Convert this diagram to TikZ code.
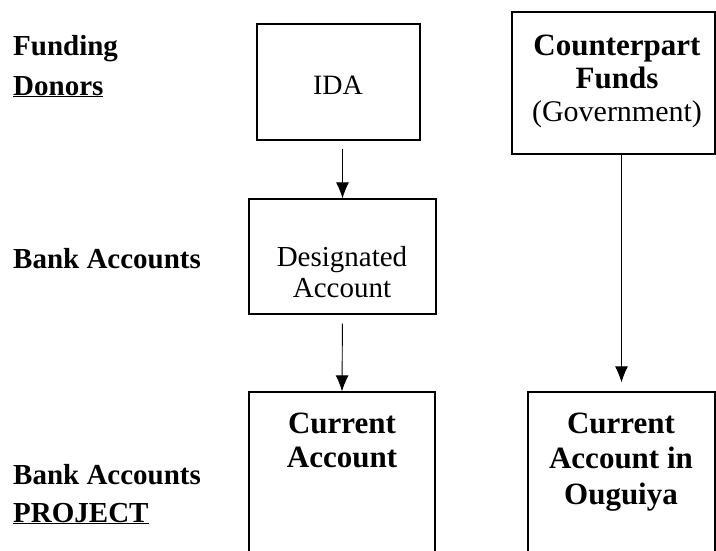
\documentclass[tikz,border=0pt]{standalone}
\usepackage{fontspec}
\setmainfont{Liberation Serif}
\usetikzlibrary{arrows.meta}

\begin{document}
\begin{tikzpicture}[x=1pt, y=-1pt, >={Latex[length=16pt, width=13pt]},
  acct/.style={draw, line width=1.2pt, inner sep=0pt},
  flow/.style={->, line width=0.9pt},
  rowlbl/.style={anchor=base west, inner sep=0pt, font=\fontsize{29}{30}\selectfont\bfseries},
  acctxt/.style={align=center, inner sep=0pt}]

\useasboundingbox (0,0) rectangle (716,550);
\clip (0,0) rectangle (716,550);

% Row labels
\node[rowlbl] (funding) at (13,55) {Funding};
\node[rowlbl] (donors) at (13,95) {\underline{Donors}};
\node[rowlbl] (bankda) at (13,268) {Bank Accounts};
\node[rowlbl] (bankproj) at (13,484) {Bank Accounts};
\node[rowlbl] (project) at (13,522) {\underline{PROJECT}};

% Donors
\node[acct, minimum width=163pt, minimum height=116pt] (ida) at (338.5,82) {};
\node[acctxt, font=\fontsize{28}{30}\selectfont] (idatxt) at (338,85) {IDA};
\node[acct, minimum width=203pt, minimum height=142pt] (cfund) at (613.5,83) {};
\node[acctxt, font=\fontsize{31}{33}\selectfont] (cfundtxt) at (617,81)
  {\textbf{Counterpart}\\\textbf{Funds}\\\fontsize{30}{33}\selectfont(Government)};

% Designated account
\node[acct, minimum width=187pt, minimum height=115pt] (desig) at (342.5,256.5) {};
\node[acctxt, font=\fontsize{29}{31}\selectfont] (desigtxt) at (342,272)
  {Designated\\Account};

% Project accounts (open at the bottom)
\node[acct, minimum width=186pt, minimum height=180pt] (curr) at (342,482) {};
\node[acctxt, font=\fontsize{31}{34}\selectfont\bfseries] (currtxt) at (342,440)
  {Current\\Account};
\node[acct, minimum width=187pt, minimum height=180pt] (oug) at (621.5,482) {};
\node[acctxt, font=\fontsize{31}{35.5}\selectfont\bfseries] (ougtxt) at (621,462)
  {Current\\Account in\\Ouguiya};

% Flows
\draw[flow, shorten <=8pt] (ida.south -| desig.north) -- (desig.north);
\draw[flow, shorten <=9pt] (desig.south) -- (curr.north);
\draw[flow, shorten >=9pt] (cfund.south -| oug.north) -- (oug.north);

\end{tikzpicture}
\end{document}
